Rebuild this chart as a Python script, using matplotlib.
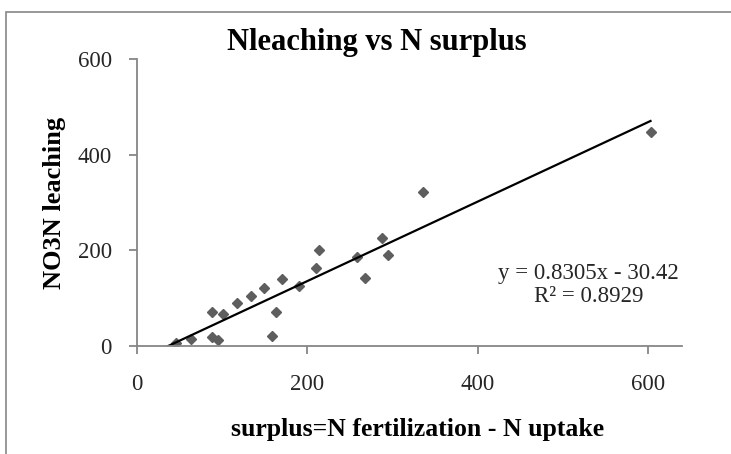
# -*- coding: utf-8 -*-

import numpy as np
import matplotlib
matplotlib.use('Agg')
import matplotlib.pyplot as plt
from matplotlib.patches import Rectangle

plt.rcParams['font.family'] = ['Liberation Serif', 'DejaVu Serif']

# N surplus (fertilization - uptake) and measured NO3-N leaching
surplus = [46, 63, 88, 88, 95, 101, 117, 134, 149, 158, 163, 170,
           190, 210, 214, 258, 268, 288, 295, 336, 603]
leaching = [6, 15, 71, 19, 12, 67, 90, 104, 121, 21, 71, 140,
            125, 162, 200, 185, 142, 225, 190, 321, 448]

# linear trendline as reported
slope = 0.8305
intercept = -30.42
r2 = 0.8929

x_ticks = [0, 200, 400, 600]
y_ticks = [0, 200, 400, 600]

axis_grey = '#868686'
point_grey = '#5e5e5e'

fig = plt.figure(figsize=(7.31, 4.54), dpi=100)
ax = fig.add_axes([0.1874, 0.2379, 0.7456, 0.6322])

# scatter of the points
ax.plot(surplus, leaching, linestyle='none', marker='D', markersize=5.5,
        color=point_grey, markeredgecolor=point_grey)

# trendline, drawn from where it crosses zero up to the largest surplus
x_fit = np.array([-intercept / slope, max(surplus)])
ax.plot(x_fit, slope * x_fit + intercept, color='black', linewidth=1.6)

ax.set_xlim(0, 640)
ax.set_ylim(0, 600)
ax.set_xticks(x_ticks)
ax.set_yticks(y_ticks)

for side in ['top', 'right']:
    ax.spines[side].set_visible(False)
for side in ['left', 'bottom']:
    ax.spines[side].set_color(axis_grey)
    ax.spines[side].set_linewidth(1.3)
ax.tick_params(axis='both', direction='out', length=6, width=1.3,
               color=axis_grey, labelsize=16.5, labelcolor='#262626')
ax.tick_params(axis='x', pad=14)
ax.tick_params(axis='y', pad=12)

ax.set_xlabel('surplus=N fertilization - N uptake', fontsize=18.5,
              fontweight='bold')
ax.xaxis.set_label_coords(0.514, -0.25)
ax.set_ylabel('NO3N leaching', fontsize=19, fontweight='bold')
ax.yaxis.set_label_coords(-0.13, 0.5)

# chart title
ax.text(0.44, 1.058, 'Nleaching vs N surplus', transform=ax.transAxes,
        ha='center', va='center', fontsize=22, fontweight='bold')

# trendline equation and R²
ax.text(0.829, 0.213, 'y = %.4fx - %.2f\nR² = %.4f' % (slope, -intercept, r2),
        transform=ax.transAxes, ha='center', va='center',
        multialignment='center', fontsize=16.5, color='#262626',
        linespacing=1.15)

# outer chart frame
fig.patches.append(Rectangle((6 / 731, -0.5), 2.0, 1.5 - 12 / 454,
                             transform=fig.transFigure, fill=False,
                             edgecolor=axis_grey, linewidth=1.2))

fig.savefig('out.png', dpi=100)
